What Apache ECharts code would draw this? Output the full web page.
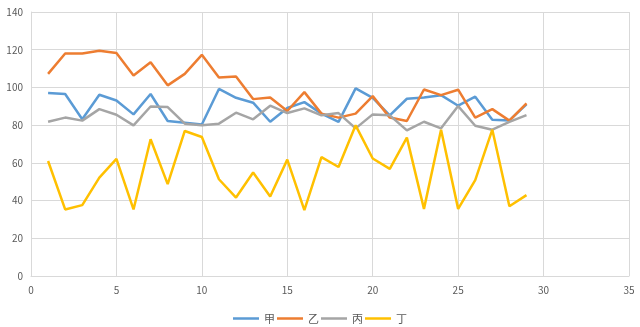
<!DOCTYPE html>
<html><head><meta charset="utf-8">
<script src="https://cdn.jsdelivr.net/npm/echarts@6/dist/echarts.min.js"></script>
<style>html,body{margin:0;padding:0;background:#fff}#c{width:640px;height:327px}</style>
</head><body><div id="c"></div>
<script>
const xs = [1,2,3,4,5,6,7,8,9,10,11,12,13,14,15,16,17,18,19,20,21,22,23,24,25,26,27,28,29];
const names = ['甲','乙','丙','丁'];
const s1 = [97.0,96.5,83.1,96.1,93.1,85.7,96.5,82.2,81.3,80.3,99.2,94.5,91.9,81.8,89.1,92.2,86.1,81.7,99.5,94.5,85.2,94.0,94.7,95.9,90.3,95.1,82.9,82.5,91.0];
const s2 = [107.2,118.0,118.0,119.4,118.2,106.3,113.4,101.1,107.2,117.3,105.3,105.8,93.8,94.7,87.5,97.5,86.1,84.0,86.1,95.4,84.0,82.2,98.9,95.9,98.8,84.0,88.5,82.4,91.6];
const s3 = [81.8,84.0,82.4,88.5,85.5,79.9,89.9,89.6,80.8,79.9,80.8,86.6,83.1,90.3,86.4,88.9,85.2,86.4,78.3,85.7,85.2,77.2,81.8,78.3,90.1,79.7,77.6,81.7,85.3];
const s4 = [61.0,35.3,37.6,52.2,62.1,35.3,72.5,48.7,76.9,73.7,51.3,41.6,54.9,42.2,61.7,34.9,63.0,57.8,79.9,62.3,56.8,73.4,35.6,77.6,35.6,50.8,77.6,37.0,42.9];
const colors = ['#5B9BD5','#ED7D31','#A5A5A5','#FFC000'];
const all = [s1,s2,s3,s4];
const chart = echarts.init(document.getElementById('c'));
const font = '"Noto Sans CJK SC","Liberation Sans",sans-serif';
chart.setOption({
  animation:false,
  color: colors,
  grid:{left:31,right:11,top:12,bottom:51},
  xAxis:{type:'value',min:0,max:35,interval:5,
    axisLine:{show:true,lineStyle:{color:'#D9D9D9'}},axisTick:{show:false},
    axisLabel:{color:'#595959',fontSize:10,fontFamily:font,margin:9},
    splitLine:{show:true,lineStyle:{color:'#D9D9D9'}}},
  yAxis:{type:'value',min:0,max:140,interval:20,
    axisLine:{show:true,lineStyle:{color:'#D9D9D9'}},axisTick:{show:false},
    axisLabel:{color:'#595959',fontSize:10,fontFamily:font,margin:8},
    splitLine:{show:true,lineStyle:{color:'#D9D9D9'}}},
  legend:{top:308,left:'center',icon:'rect',itemWidth:26,itemHeight:2.5,itemGap:2,
    textStyle:{color:'#595959',fontSize:11,fontFamily:font},data:names},
  series: names.map((n,i)=>({name:n,type:'line',showSymbol:false,symbol:'none',
    lineStyle:{width:2.5,color:colors[i]},itemStyle:{color:colors[i]},
    data: xs.map((x,j)=>[x,all[i][j]])}))
});
</script></body></html>
